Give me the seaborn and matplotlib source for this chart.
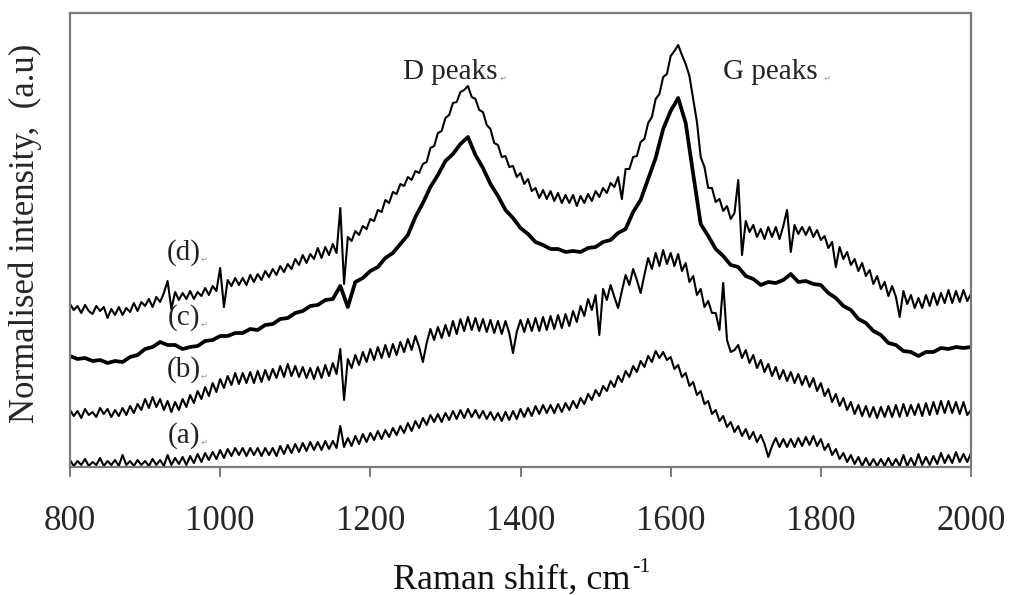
import numpy as np
import pandas as pd
import matplotlib
matplotlib.use("Agg")
import matplotlib.pyplot as plt
import seaborn as sns

# Raman shift grids (cm-1)
shift = list(range(800, 2001, 5))      # noisy spectra (a), (b), (d)
shift_c = list(range(800, 2001, 10))   # spectrum (c)

# Normalised intensities (a.u., offset traces)
trace_d = [163, 157, 161, 154, 162, 156, 153, 161, 156, 160,
           149, 158, 152, 160, 152, 159, 155, 164, 156, 165,
           161, 168, 160, 170, 165, 174, 186, 158, 175, 167,
           174, 168, 176, 168, 175, 171, 179, 172, 181, 176,
           199, 160, 187, 181, 189, 182, 189, 182, 192, 185,
           193, 187, 196, 190, 198, 192, 201, 195, 203, 198,
           208, 202, 212, 204, 213, 208, 219, 209, 220, 212,
           223, 214, 259, 183, 230, 226, 236, 232, 241, 238,
           248, 246, 257, 255, 267, 264, 275, 273, 283, 281,
           290, 287, 296, 294, 303, 305, 319, 321, 334, 336,
           349, 352, 364, 365, 375, 377, 381, 370, 368, 357,
           355, 342, 338, 324, 322, 310, 311, 300, 301, 290,
           294, 283, 288, 276, 279, 269, 277, 268, 276, 266,
           274, 264, 272, 264, 272, 261, 271, 264, 273, 266,
           276, 270, 279, 274, 284, 280, 290, 268, 298, 298,
           310, 311, 325, 328, 344, 350, 368, 373, 390, 393,
           411, 416, 422, 412, 403, 391, 368, 345, 310, 300,
           279, 279, 265, 268, 256, 261, 248, 254, 287, 212,
           246, 235, 242, 230, 238, 228, 240, 230, 240, 228,
           241, 257, 215, 242, 233, 240, 232, 240, 230, 237,
           227, 231, 219, 225, 200, 220, 208, 215, 202, 208,
           196, 204, 191, 197, 183, 191, 178, 185, 171, 181,
           170, 150, 176, 163, 172, 159, 169, 159, 172, 161,
           174, 162, 174, 164, 177, 164, 176, 165, 177, 166,
           173]

trace_c = [111, 108, 109, 106, 107, 104, 106, 105, 110, 112,
           118, 120, 125, 122, 122, 118, 120, 121, 126, 127,
           131, 131, 134, 134, 138, 137, 142, 143, 148, 149,
           154, 156, 161, 162, 167, 168, 181, 160, 185, 189,
           196, 200, 209, 214, 223, 232, 250, 264, 280, 292,
           306, 313, 323, 330, 312, 299, 283, 271, 257, 249,
           239, 233, 225, 222, 218, 218, 215, 216, 215, 219,
           220, 225, 227, 234, 238, 255, 267, 288, 309, 338,
           356, 369, 344, 293, 243, 231, 218, 211, 202, 200,
           191, 188, 182, 185, 184, 187, 193, 185, 186, 183,
           182, 174, 169, 161, 157, 148, 144, 136, 132, 124,
           122, 116, 115, 111, 115, 115, 119, 118, 120, 119,
           120]

trace_b = [57, 51, 56, 49, 58, 52, 55, 50, 59, 53,
           58, 50, 57, 51, 59, 52, 61, 54, 63, 57,
           68, 59, 70, 60, 68, 57, 66, 55, 65, 57,
           68, 60, 72, 64, 76, 68, 80, 71, 84, 75,
           88, 79, 91, 82, 94, 83, 94, 84, 95, 84,
           96, 85, 97, 87, 98, 89, 101, 90, 103, 91,
           101, 90, 100, 89, 99, 88, 100, 89, 102, 91,
           104, 93, 118, 67, 108, 99, 112, 102, 115, 105,
           118, 107, 120, 109, 122, 110, 123, 112, 125, 115,
           128, 117, 131, 120, 105, 124, 138, 127, 140, 129,
           142, 131, 146, 133, 148, 136, 150, 137, 149, 136,
           148, 135, 147, 134, 146, 133, 146, 134, 114, 135,
           147, 135, 148, 136, 149, 136, 150, 137, 151, 138,
           152, 139, 153, 141, 156, 145, 161, 151, 168, 157,
           172, 132, 178, 167, 182, 170, 159, 176, 192, 182,
           198, 187, 174, 192, 209, 198, 214, 201, 217, 203,
           214, 201, 213, 196, 204, 185, 191, 172, 178, 160,
           166, 154, 154, 137, 184, 127, 115, 117, 122, 109,
           117, 104, 112, 99, 107, 95, 103, 91, 100, 88,
           97, 86, 95, 84, 93, 82, 91, 80, 89, 76,
           84, 71, 78, 65, 73, 61, 69, 57, 65, 53,
           62, 51, 61, 50, 60, 49, 60, 50, 61, 50,
           62, 50, 63, 51, 62, 52, 63, 51, 64, 52,
           65, 53, 66, 54, 66, 54, 65, 53, 65, 52,
           57]

trace_a = [7, 1, 6, 2, 8, 1, 5, 2, 9, 1,
           6, 2, 7, 1, 12, 2, 6, 1, 7, 2,
           6, 1, 8, 2, 7, 1, 12, 2, 9, 3,
           10, 2, 11, 4, 13, 5, 14, 7, 15, 8,
           17, 9, 18, 11, 19, 12, 19, 11, 19, 12,
           19, 11, 19, 12, 19, 11, 21, 13, 22, 14,
           23, 15, 24, 16, 25, 17, 25, 17, 26, 18,
           26, 19, 41, 20, 29, 21, 31, 23, 33, 25,
           34, 27, 36, 28, 37, 30, 39, 32, 41, 34,
           44, 36, 46, 39, 49, 42, 52, 45, 53, 45,
           54, 47, 56, 48, 57, 49, 58, 50, 57, 49,
           56, 48, 55, 47, 54, 46, 55, 47, 56, 48,
           58, 50, 59, 51, 61, 53, 62, 54, 62, 54,
           63, 55, 64, 57, 66, 59, 69, 63, 73, 67,
           77, 71, 81, 76, 86, 80, 91, 85, 96, 90,
           101, 95, 106, 100, 111, 105, 116, 109, 115, 107,
           110, 98, 102, 90, 94, 81, 85, 72, 76, 63,
           66, 53, 57, 46, 51, 40, 45, 35, 41, 31,
           38, 28, 35, 25, 32, 23, 10, 21, 29, 20,
           28, 20, 28, 20, 29, 21, 30, 22, 31, 21,
           28, 17, 23, 12, 18, 8, 14, 5, 12, 3,
           10, 1, 9, 1, 8, 1, 8, 1, 9, 1,
           8, 1, 12, 1, 9, 1, 13, 2, 10, 2,
           11, 3, 14, 4, 12, 4, 15, 5, 13, 5,
           14]

trace_names = ["(a)", "(b)", "(c)", "(d)"]
x_ticks = [800, 1000, 1200, 1400, 1600, 1800, 2000]

frames = []
for name, xs, ys in [("(a)", shift, trace_a), ("(b)", shift, trace_b),
                     ("(c)", shift_c, trace_c), ("(d)", shift, trace_d)]:
    frames.append(pd.DataFrame({"shift": xs, "intensity": ys, "trace": name}))
long = pd.concat(frames, ignore_index=True)

sns.set_theme(style="white")
plt.rcParams["font.family"] = ["Liberation Serif", "DejaVu Serif"]

fig = plt.figure(figsize=(10.09, 5.95), dpi=100)
ax = fig.add_axes([70 / 1009, 1 - 467 / 595, 901 / 1009, 454 / 595])

widths = {"(a)": 1.5, "(b)": 1.5, "(c)": 2.7, "(d)": 1.5}
for name in trace_names:
    sub = long[long["trace"] == name]
    sns.lineplot(data=sub, x="shift", y="intensity", ax=ax, color="black",
                 linewidth=widths[name], estimator=None, sort=False,
                 legend=False)

ax.set_xlim(800, 2000)
ax.set_ylim(0, 454)
ax.set_xticks(x_ticks)
ax.set_xticklabels([str(t) for t in x_ticks])
ax.set_yticks([])
ax.tick_params(axis="x", which="both", direction="out", length=7, width=1.3,
               color="#707070", pad=20, labelsize=25, bottom=True)
for s in ax.spines.values():
    s.set_visible(True)
    s.set_color("#7a7a7a")
    s.set_linewidth(1.6)

ax.set_xlabel("")
ax.set_ylabel("Normalised intensity,  (a.u)", fontsize=25)
ax.yaxis.set_label_coords(-0.031, 0.515)

# x-axis title with superscript drawn as text
fig.text(393 / 1009, 1 - 589 / 595, "Raman shift, cm", ha="left",
         va="baseline", fontsize=26, color="#111111")
fig.text(632 / 1009, 1 - 572 / 595, "-1", ha="left", va="baseline",
         fontsize=16, color="#111111")

# trace labels
label_pos = {"(d)": 214, "(c)": 149, "(b)": 97, "(a)": 31}
for name, yv in label_pos.items():
    ax.text(952, yv, name, ha="center", va="center", fontsize=21,
            color="#222222")
    ax.text(974, yv - 6, "\u21b5", ha="left", va="center", fontsize=6,
            color="#999999", family="DejaVu Sans")

ax.text(1307, 395, "D peaks", ha="center", va="center", fontsize=21,
        color="#222222")
ax.text(1372, 389, "\u21b5", ha="left", va="center", fontsize=6,
        color="#999999", family="DejaVu Sans")
ax.text(1733, 395, "G peaks", ha="center", va="center", fontsize=21,
        color="#222222")
ax.text(1803, 389, "\u21b5", ha="left", va="center", fontsize=6,
        color="#999999", family="DejaVu Sans")

fig.savefig("out.png", dpi=100)
